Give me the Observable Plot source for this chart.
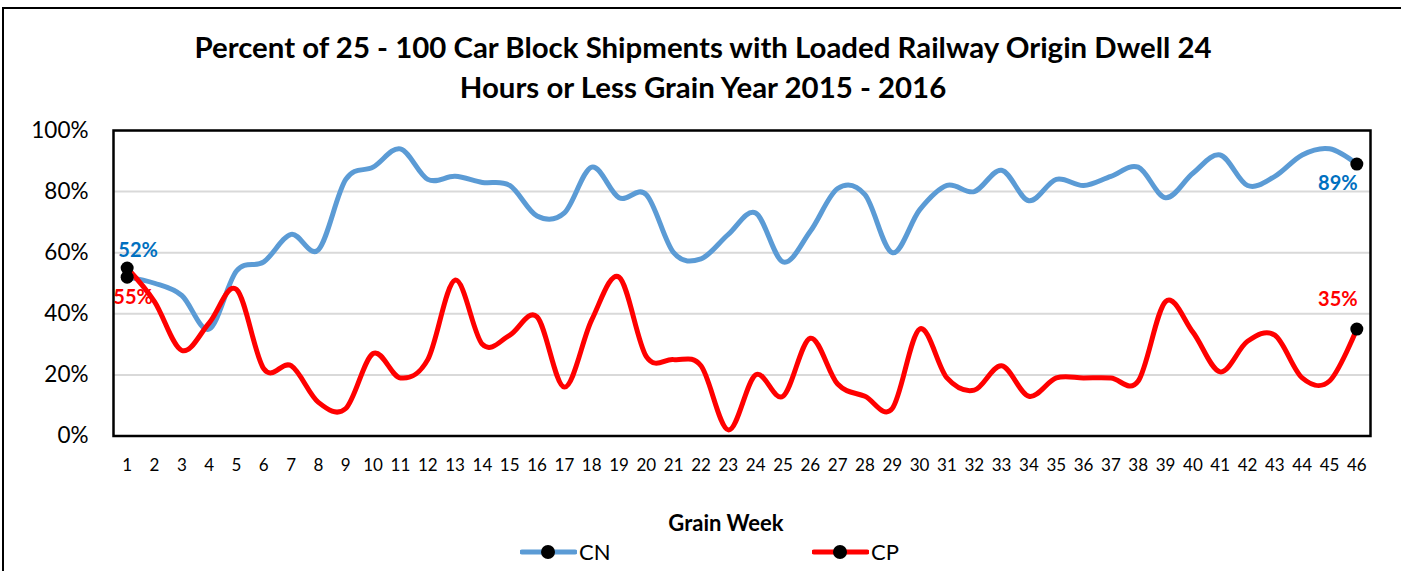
<!DOCTYPE html>
<html>
<head>
<meta charset="utf-8">
<script src="https://cdn.jsdelivr.net/npm/d3@7"></script>
<script src="https://cdn.jsdelivr.net/npm/@observablehq/plot@0.6"></script>
<style>
  html, body { margin: 0; padding: 0; background: #fff; }
  #wrap { position: relative; width: 1401px; height: 571px; overflow: hidden; font-family: Lato, "Open Sans", sans-serif; }
  #chart svg { position: absolute; left: 0; top: 0; }
  .border-left { position: absolute; left: 2px; top: 7px; width: 2px; height: 570px; background: #000; }
  .border-top { position: absolute; left: 2px; top: 7px; width: 1405px; height: 2px; background: #000; }
  #title { position: absolute; left: 0; width: 1406px; top: 27px; text-align: center; font-weight: 700; font-size: 29.4px; line-height: 40px; color: #000; }
  #xlabel { position: absolute; left: 0; width: 1452px; top: 512px; text-align: center; font-weight: 700; font-size: 22px; line-height: 22px; color: #000; }
  .leg { position: absolute; top: 538px; height: 28px; display: flex; align-items: center; font-size: 22px; line-height: 28px; color: #000; }
  .leg svg { display: block; margin-right: 2px; }
</style>
</head>
<body>
<div id="wrap">
  <div class="border-left"></div>
  <div class="border-top"></div>
  <div id="title">Percent of 25 - 100 Car Block Shipments with Loaded Railway Origin Dwell 24<br>Hours or Less Grain Year 2015 - 2016</div>
  <div id="chart"></div>
  <div id="xlabel">Grain Week</div>
  <div id="legend"></div>
</div>
<script>
const weeks = [1,2,3,4,5,6,7,8,9,10,11,12,13,14,15,16,17,18,19,20,21,22,23,24,25,26,27,28,29,30,31,32,33,34,35,36,37,38,39,40,41,42,43,44,45,46];
const cnValues = [52,50,46,35,54,57,66,61,84,88,94,84,85,83,82,72,73,88,78,79,60,58,66,73,57,67,81,79,60,74,82,80,87,77,84,82,85,88,78,86,92,82,85,92,94,89];
const cpValues = [55,44,28,37,48,22,23,11,9,27,19,25,51,30,33,39,16,38,52,26,25,23,2,20,13,32,17,13,9,35,19,15,23,13,19,19,19,18,44,34,21,31,33,19,18,35];
const seriesNames = ["CN", "CP"];
const seriesColors = ["#5B9BD5", "#FF0000"];
const labelColors = ["#0070C0", "#FF0000"];
const yTicks = [0, 0.2, 0.4, 0.6, 0.8, 1.0];

const data = [];
weeks.forEach((w, i) => {
  data.push({week: w, series: "CN", value: cnValues[i] / 100});
  data.push({week: w, series: "CP", value: cpValues[i] / 100});
});
const firstWeek = weeks[0], lastWeek = weeks[weeks.length - 1];
const ends = data.filter(d => d.week === firstWeek || d.week === lastWeek);
const pick = (s, w) => data.filter(d => d.series === s && d.week === w);
const pct = d3.format(".0%");

const chart = Plot.plot({
  width: 1401,
  height: 571,
  marginLeft: 113,
  marginRight: 31,
  marginTop: 130,
  marginBottom: 135.5,
  style: {fontFamily: "Lato, 'Open Sans', sans-serif", background: "transparent", color: "#000"},
  x: {domain: [0.5, 46.5]},
  y: {domain: [0, 1]},
  color: {domain: seriesNames, range: seriesColors},
  marks: [
    Plot.gridY(yTicks, {stroke: "#d9d9d9", strokeOpacity: 1, strokeWidth: 2}),
    Plot.frame({stroke: "#000", strokeWidth: 2.5}),
    Plot.axisY(yTicks, {tickSize: 0, tickPadding: 25, tickFormat: pct, fontSize: 22.5, label: null, fill: "#000"}),
    Plot.axisX(weeks, {tickSize: 0, tickPadding: 23, tickFormat: d => String(d), fontSize: 17, label: null, fill: "#000"}),
    Plot.line(data, {x: "week", y: "value", z: "series", stroke: "series", strokeWidth: 5, curve: "cardinal", strokeLinecap: "round", strokeLinejoin: "round"}),
    Plot.dot(ends, {x: "week", y: "value", r: 6.5, fill: "#000", stroke: "none"}),
    Plot.text(pick("CN", firstWeek), {x: "week", y: "value", text: d => pct(d.value), dx: 11, dy: -27, fill: labelColors[0], fontWeight: "bold", fontSize: 20}),
    Plot.text(pick("CP", firstWeek), {x: "week", y: "value", text: d => pct(d.value), dx: 6, dy: 30, fill: labelColors[1], fontWeight: "bold", fontSize: 20}),
    Plot.text(pick("CN", lastWeek), {x: "week", y: "value", text: d => pct(d.value), dx: -19, dy: 19, fill: labelColors[0], fontWeight: "bold", fontSize: 20}),
    Plot.text(pick("CP", lastWeek), {x: "week", y: "value", text: d => pct(d.value), dx: -19, dy: -29, fill: labelColors[1], fontWeight: "bold", fontSize: 20})
  ]
});
document.getElementById("chart").appendChild(chart);

// Legend
const legend = document.getElementById("legend");
const legendLeft = [520, 812];
seriesNames.forEach((name, i) => {
  const item = document.createElement("div");
  item.className = "leg";
  item.style.left = legendLeft[i] + "px";
  const sw = d3.create("svg").attr("width", 57).attr("height", 28);
  sw.append("line").attr("x1", 2).attr("x2", 55).attr("y1", 14).attr("y2", 14)
    .attr("stroke", seriesColors[i]).attr("stroke-width", 5).attr("stroke-linecap", "round");
  sw.append("circle").attr("cx", 28).attr("cy", 14).attr("r", 7).attr("fill", "#000");
  item.appendChild(sw.node());
  const t = document.createElement("span");
  t.textContent = name;
  item.appendChild(t);
  legend.appendChild(item);
});
</script>
</body>
</html>
